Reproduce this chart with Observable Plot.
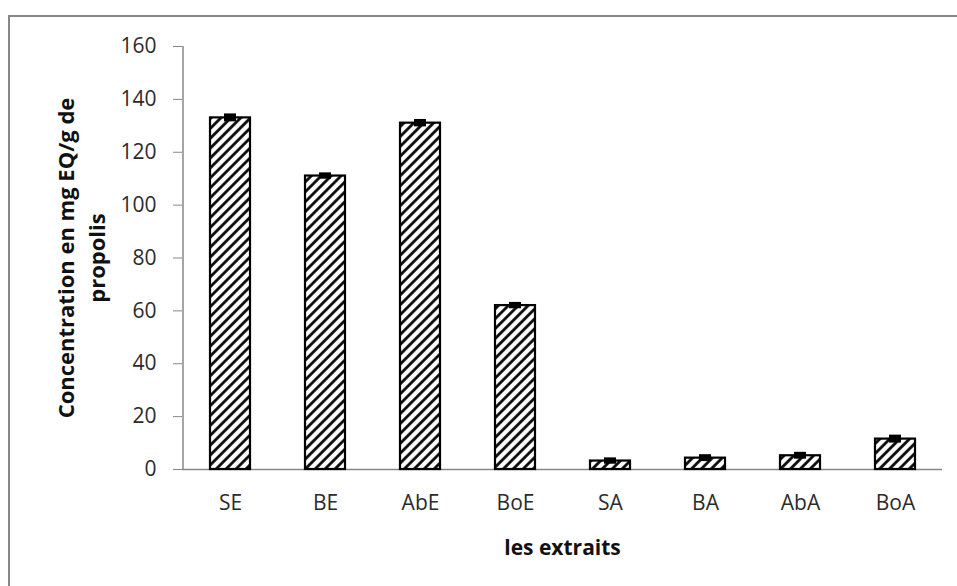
<!DOCTYPE html>
<html>
<head>
<meta charset="utf-8">
<script src="https://cdn.jsdelivr.net/npm/d3@7"></script>
<script src="https://cdn.jsdelivr.net/npm/@observablehq/plot@0.6"></script>
<style>
  html, body { margin: 0; padding: 0; background: #fff; overflow: hidden; }
  #wrap { position: relative; width: 957px; height: 586px; }
  #box { position: absolute; left: 8px; top: 15px; width: 1200px; height: 1200px;
         border: 2px solid #878787; box-sizing: border-box; }
  #chart { position: absolute; left: 0; top: 0; }
</style>
</head>
<body>
<div id="wrap"><div id="box"></div><div id="chart"></div></div>
<script>
// Extracts and their total concentration (mg EQ/g of propolis), with error
const categories = ["SE", "BE", "AbE", "BoE", "SA", "BA", "AbA", "BoA"];
const values = [133, 111, 131, 62, 3.2, 4.3, 5.2, 11.5];
const errors = [1.5, 1.2, 1.4, 1.2, 1.2, 1.3, 1.3, 1.5];
const yTicks = [0, 20, 40, 60, 80, 100, 120, 140, 160];
const yTitle = ["Concentration en mg EQ/g de", "propolis"];
const xTitle = "les extraits";

const data = categories.map((name, i) => ({name, value: values[i], err: errors[i]}));

const W = 957, H = 586, mL = 182, mR = 15, mT = 46, mB = 117;
const halfBand = (W - mL - mR) / categories.length / 2;
const axisGray = "#878787";

const chart = Plot.plot({
  width: W,
  height: H,
  marginLeft: mL,
  marginRight: mR,
  marginTop: mT,
  marginBottom: mB,
  x: {domain: categories, paddingInner: 0.58, paddingOuter: 0.29, label: null},
  y: {domain: [0, 160], label: null},
  style: {fontFamily: "'Open Sans', sans-serif", fontSize: "21px", color: "#2b2b2b", background: "transparent"},
  marks: [
    Plot.ruleY([0], {stroke: axisGray, strokeWidth: 1.5}),
    Plot.ruleX([categories[0]], {dx: -halfBand, stroke: axisGray, strokeWidth: 1.5}),
    Plot.axisY({ticks: yTicks, tickSize: 9, tickPadding: 17, stroke: axisGray, label: null}),
    Plot.axisX({tickSize: 0, tickPadding: 26, label: null}),
    Plot.barY(data, {x: "name", y: "value", fill: "url(#hatch)", stroke: "black", strokeWidth: 2.2}),
    Plot.barY(data, {x: "name", y1: d => d.value - d.err, y2: d => d.value + d.err,
                     fill: "black", insetLeft: 14, insetRight: 14}),
    Plot.text([yTitle[0]], {frameAnchor: "left", textAnchor: "middle", lineAnchor: "middle",
                            dx: -116, rotate: -90, fontWeight: "bold", fontSize: 22, fill: "#111"}),
    Plot.text([yTitle[1]], {frameAnchor: "left", textAnchor: "middle", lineAnchor: "middle",
                            dx: -85, rotate: -90, fontWeight: "bold", fontSize: 22, fill: "#111"}),
    Plot.text([xTitle], {frameAnchor: "bottom", lineAnchor: "middle", dy: 79,
                         fontWeight: "bold", fontSize: 21, fill: "#111"})
  ]
});

// Diagonal hatch used to fill the bars
const svg = d3.select(chart);
const step = 7;
const pattern = svg.insert("defs", ":first-child")
  .append("pattern")
  .attr("id", "hatch")
  .attr("patternUnits", "userSpaceOnUse")
  .attr("width", step)
  .attr("height", step)
  .attr("patternTransform", "rotate(45)");
pattern.append("rect").attr("width", step).attr("height", step).attr("fill", "white");
pattern.append("line").attr("x1", 1.5).attr("y1", 0).attr("x2", 1.5).attr("y2", step)
  .attr("stroke", "black").attr("stroke-width", 2.7);

document.getElementById("chart").appendChild(chart);
</script>
</body>
</html>
